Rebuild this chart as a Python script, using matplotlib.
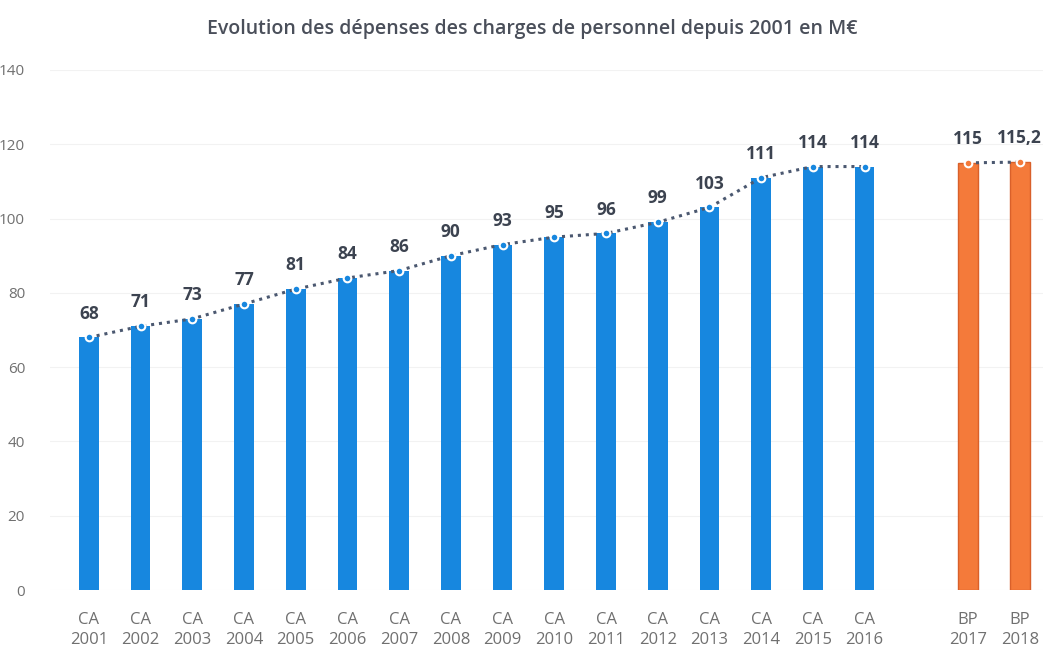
import matplotlib.pyplot as plt
import numpy as np

# ==============================
# DATA
# ==============================
ca_labels = ["CA\n2001", "CA\n2002", "CA\n2003", "CA\n2004", "CA\n2005", "CA\n2006",
             "CA\n2007", "CA\n2008", "CA\n2009", "CA\n2010", "CA\n2011", "CA\n2012",
             "CA\n2013", "CA\n2014", "CA\n2015", "CA\n2016"]
ca_values = [68, 71, 73, 77, 81, 84, 86, 90, 93, 95, 96, 99, 103, 111, 114, 114]
ca_text = ["68", "71", "73", "77", "81", "84", "86", "90", "93", "95", "96", "99",
           "103", "111", "114", "114"]

bp_labels = ["BP\n2017", "BP\n2018"]
bp_values = [115, 115.2]
bp_text = ["115", "115,2"]

# ==============================
# STYLE
# ==============================
plt.rcParams['font.family'] = ['Open Sans', 'DejaVu Sans']
blue = "#1787df"
orange = "#f47a3a"
line_col = "#4b5870"
txt_col = "#3c4350"
tick_col = "#707070"

x_ca = np.arange(len(ca_values))
x_bp = np.arange(len(bp_values)) + len(ca_values) + 1

fig = plt.figure(figsize=(10.43, 6.48), dpi=100)
ax = fig.add_axes([0.048, 0.0895, 0.952, 0.8025])

ax.bar(x_ca, ca_values, width=0.38, color=blue, zorder=2)
ax.bar(x_bp, bp_values, width=0.38, color=orange, edgecolor="#d9602a", linewidth=1, zorder=2)

# dotted trend lines
ax.plot(x_ca, ca_values, linestyle=(0, (1, 1.6)), color=line_col, linewidth=2.2,
        marker="o", markersize=5.5, markerfacecolor=blue, markeredgecolor="white",
        markeredgewidth=1.5, zorder=3)
ax.plot(x_bp, bp_values, linestyle=(0, (1, 1.6)), color=line_col, linewidth=2.2,
        marker="o", markersize=5.5, markerfacecolor=orange, markeredgecolor="white",
        markeredgewidth=1.5, zorder=3)

# data labels
for xi, v, t in zip(x_ca, ca_values, ca_text):
    ax.text(xi, v + 4, t, ha="center", va="bottom", fontsize=12.5, fontweight="bold", color=txt_col)
for xi, v, t in zip(x_bp, bp_values, bp_text):
    ax.text(xi, v + 4, t, ha="center", va="bottom", fontsize=12.5, fontweight="bold", color=txt_col)

ax.set_ylim(0, 140)
ax.set_xlim(-0.75, 18.45)
ax.set_yticks(range(0, 141, 20))
ax.set_xticks(list(x_ca) + list(x_bp))
ax.set_xticklabels(ca_labels + bp_labels, linespacing=1.3)
ax.tick_params(axis="both", length=0, colors=tick_col, labelsize=11)
ax.tick_params(axis="x", pad=16, labelsize=12)
ax.tick_params(axis="y", pad=18)
ax.grid(axis="y", color="#f2f2f2", linewidth=0.8, zorder=0)
for s in ax.spines.values():
    s.set_visible(False)

fig.text(0.51, 0.955, "Evolution des dépenses des charges de personnel depuis 2001 en M€",
         ha="center", va="center", fontsize=14, color="#4a4f5a", fontweight="semibold")

fig.savefig("out.png", dpi=100)
